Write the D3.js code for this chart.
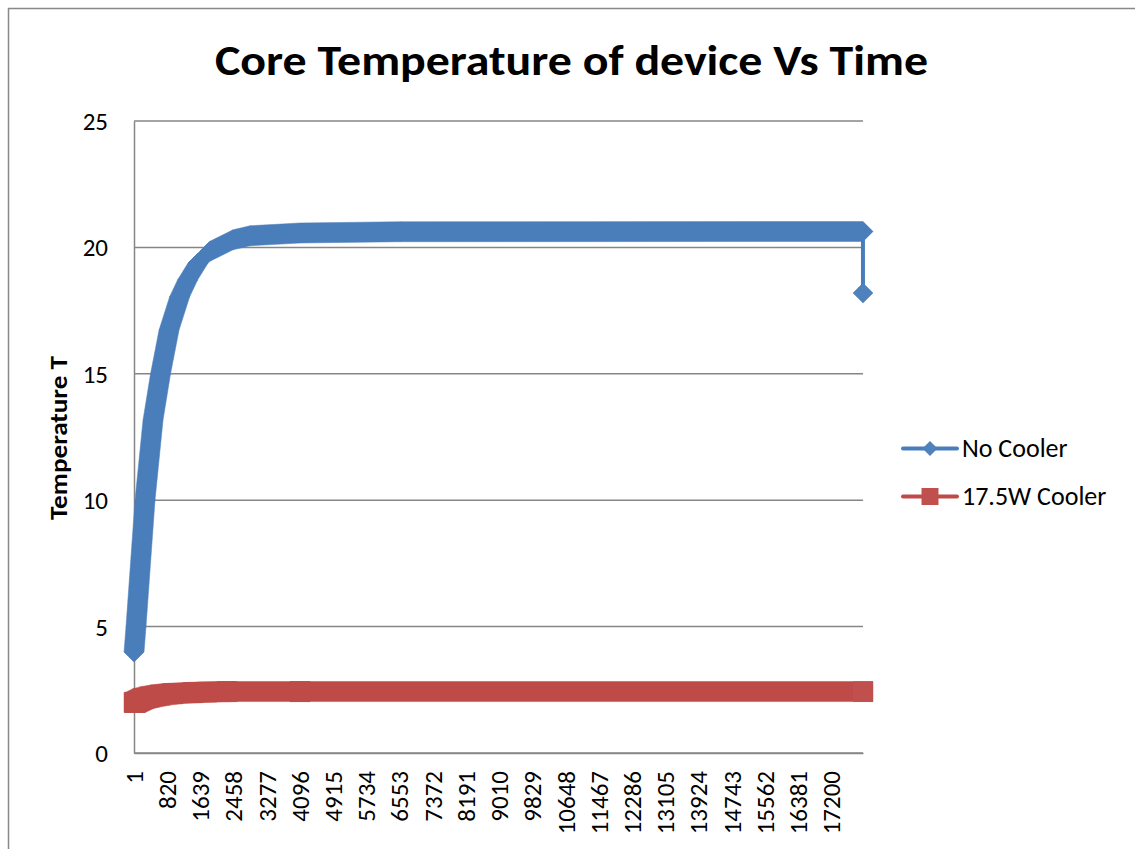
<!DOCTYPE html>
<html>
<head>
<meta charset="utf-8">
<script src="https://cdn.jsdelivr.net/npm/d3@7"></script>
<style>
  html, body { margin: 0; padding: 0; background: #fff; overflow: hidden; }
  text { font-family: Calibri, Carlito, Lato, sans-serif; fill: #000; }
</style>
</head>
<body>
<div id="chart"></div>
<script>
// Values
const lastTime = 17975;
const timeLabels = [1, 820, 1639, 2458, 3277, 4096, 4915, 5734, 6553, 7372, 8191,
  9010, 9829, 10648, 11467, 12286, 13105, 13924, 14743, 15562, 16381, 17200];
const tempTicks = [0, 5, 10, 15, 20, 25];

const noCoolerTime = [1, 50, 272, 470, 655, 865, 1124, 1321, 1579, 1875, 2443, 2862, 4095, 6562, 17974, 17975];
const noCoolerTemp = [4.0, 5.0, 10.0, 13.17, 15.0, 16.73, 18.04, 18.71, 19.38, 19.85, 20.3, 20.46, 20.57, 20.62, 20.63, 18.2];

const cooledTime = [1, 30, 223, 396, 642, 963, 1457, 1803, 2297, 4095, 17975];
const cooledTemp = [2.0, 2.0, 2.15, 2.22, 2.29, 2.35, 2.39, 2.41, 2.43, 2.43, 2.43];

const seriesNames = ["No Cooler", "17.5W Cooler"];

const width = 1135, height = 849;
const plot = { left: 134, right: 863, top: 121, bottom: 753 };

const svg = d3.select("#chart").append("svg")
  .attr("width", width)
  .attr("height", height);

// outer chart border (runs off the right/bottom edge like the screenshot)
svg.append("rect")
  .attr("x", 8.5).attr("y", 8.5)
  .attr("width", 1300).attr("height", 1000)
  .attr("fill", "#fff")
  .attr("stroke", "#888")
  .attr("stroke-width", 1.5);

const x = d3.scaleLinear().domain([0.5, lastTime + 0.5]).range([plot.left, plot.right]);
const y = d3.scaleLinear().domain([0, 25]).range([plot.bottom, plot.top]);

// gridlines
svg.append("g").selectAll("line")
  .data(tempTicks)
  .enter().append("line")
  .attr("x1", plot.left).attr("x2", plot.right)
  .attr("y1", d => y(d)).attr("y2", d => y(d))
  .attr("stroke", "#868686")
  .attr("stroke-width", 1.5);

// y axis
const yAxis = svg.append("g")
  .attr("transform", `translate(${plot.left},0)`)
  .call(d3.axisLeft(y).tickValues(tempTicks).tickSize(0).tickPadding(26));
yAxis.select(".domain").attr("stroke", "#868686").attr("stroke-width", 1.5);
yAxis.selectAll("text").style("font-size", "25px").attr("dy", "0.34em");

// x axis (category labels every 819 points)
const xAxis = svg.append("g")
  .attr("transform", `translate(0,${plot.bottom})`)
  .call(d3.axisBottom(x).tickValues(timeLabels).tickSize(0).tickFormat(d3.format("d")));
xAxis.select(".domain").attr("stroke", "#868686").attr("stroke-width", 1.5);
xAxis.selectAll("text")
  .style("font-size", "25px")
  .attr("text-anchor", "end")
  .attr("transform", "rotate(-90)")
  .attr("x", -18)
  .attr("y", 0)
  .attr("dy", "0.33em");

// title
svg.append("text")
  .attr("x", 571.5).attr("y", 75)
  .attr("text-anchor", "middle")
  .attr("textLength", 713)
  .attr("lengthAdjust", "spacingAndGlyphs")
  .style("font-size", "42px")
  .style("font-weight", "bold")
  .text("Core Temperature of device Vs Time");

// y axis title
svg.append("text")
  .attr("transform", "translate(67,438) rotate(-90)")
  .attr("text-anchor", "middle")
  .attr("textLength", 164)
  .attr("lengthAdjust", "spacingAndGlyphs")
  .style("font-size", "24px")
  .style("font-weight", "bold")
  .text("Temperature T");

// marker shapes
const markerPts = (p, shape, r) => shape === "diamond"
  ? [[p[0] - r, p[1]], [p[0], p[1] - r], [p[0] + r, p[1]], [p[0], p[1] + r]]
  : [[p[0] - r, p[1] - r], [p[0] + r, p[1] - r], [p[0] + r, p[1] + r], [p[0] - r, p[1] + r]];

const series = [
  { name: seriesNames[0], time: noCoolerTime, temp: noCoolerTemp, shape: "diamond", line: "#4A7EBB", fill: "#4F81BD", r: 10 },
  { name: seriesNames[1], time: cooledTime, temp: cooledTemp, shape: "square", line: "#BE4B48", fill: "#C0504D", r: 10 }
];

const line = d3.line().x(d => d[0]).y(d => d[1]);

series.forEach(s => {
  const pts = s.time.map((t, i) => [x(t), y(s.temp[i])]);
  const g = svg.append("g");

  // thousands of overlapping markers form a solid band between read points
  for (let i = 0; i < pts.length - 1; i++) {
    if (s.time[i + 1] - s.time[i] <= 1) continue;
    const hull = d3.polygonHull(markerPts(pts[i], s.shape, s.r).concat(markerPts(pts[i + 1], s.shape, s.r)));
    g.append("path")
      .attr("d", "M" + hull.join("L") + "Z")
      .attr("fill", s.line)
      .attr("stroke", s.line)
      .attr("stroke-width", 0.5);
  }

  g.append("path")
    .attr("d", line(pts))
    .attr("fill", "none")
    .attr("stroke", s.line)
    .attr("stroke-width", 4);

  g.selectAll(".marker")
    .data(pts)
    .enter().append("path")
    .attr("class", "marker")
    .attr("d", p => "M" + markerPts(p, s.shape, s.r).join("L") + "Z")
    .attr("fill", s.line);

  // end markers slightly lighter like the screenshot
  g.append("path")
    .attr("d", "M" + markerPts(pts[pts.length - 1], s.shape, s.r).join("L") + "Z")
    .attr("fill", s.fill);
});

// legend
const legend = svg.append("g").attr("transform", "translate(903,448.5)");
series.forEach((s, i) => {
  const row = legend.append("g").attr("transform", `translate(0,${i * 48})`);
  row.append("line")
    .attr("x1", 0).attr("x2", 54)
    .attr("stroke", s.line)
    .attr("stroke-width", 4)
    .attr("stroke-linecap", "round");
  row.append("path")
    .attr("d", "M" + markerPts([27, 0], s.shape, s.shape === "diamond" ? 7.5 : 8.5).join("L") + "Z")
    .attr("fill", s.fill);
  row.append("text")
    .attr("x", 59).attr("y", 0)
    .attr("dy", "0.34em")
    .style("font-size", "26px")
    .text(s.name);
});
</script>
</body>
</html>
